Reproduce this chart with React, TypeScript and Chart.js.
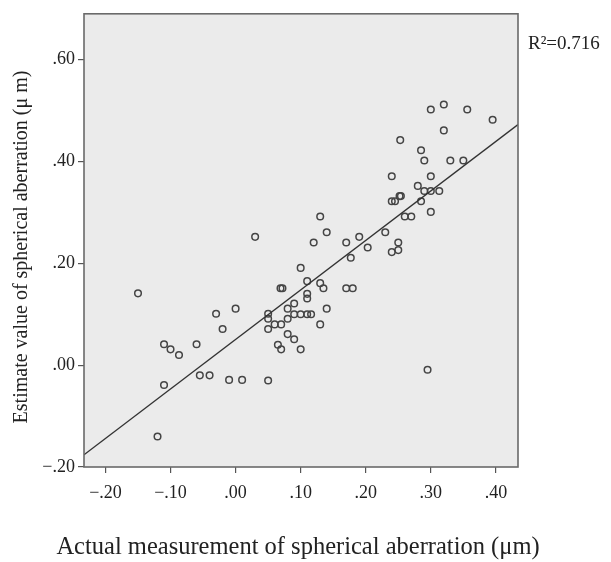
import React, { useEffect, useRef } from "react";
import { Chart, registerables } from "chart.js";

Chart.register(...registerables);

// Actual measurement of spherical aberration (µm)
const measuredX = [
  -0.15, -0.03, 0.0, -0.02, -0.11, -0.1, -0.087, -0.06, -0.055, -0.04, -0.01, 0.01, -0.11, -0.12,
  0.13, 0.03, 0.14, 0.12, 0.17, 0.19, 0.203, 0.177, 0.1, 0.11, 0.13, 0.135, 0.069, 0.072, 0.17, 0.18,
  0.11, 0.11, 0.09, 0.08, 0.14, 0.05, 0.09, 0.1, 0.11, 0.116, 0.05, 0.08, 0.06, 0.07, 0.13, 0.05,
  0.08, 0.09, 0.065, 0.07, 0.1, 0.05,
  0.24, 0.25, 0.25, 0.23, 0.26, 0.27, 0.3, 0.24, 0.245, 0.285, 0.252, 0.254, 0.29, 0.3, 0.313, 0.28,
  0.24, 0.3, 0.29, 0.33, 0.35, 0.285, 0.253, 0.32, 0.395, 0.3, 0.32, 0.356, 0.295,
];

// Estimate value of spherical aberration (µm)
const estimatedY = [
  0.141, 0.101, 0.111, 0.071, 0.041, 0.031, 0.02, 0.041, -0.02, -0.02, -0.029, -0.029, -0.039, -0.14,
  0.292, 0.252, 0.261, 0.241, 0.241, 0.252, 0.231, 0.211, 0.191, 0.165, 0.161, 0.151, 0.151, 0.151, 0.151, 0.151,
  0.14, 0.131, 0.121, 0.111, 0.111, 0.101, 0.1, 0.1, 0.1, 0.1, 0.091, 0.091, 0.08, 0.08, 0.08, 0.071,
  0.061, 0.051, 0.04, 0.031, 0.031, -0.03,
  0.222, 0.226, 0.241, 0.261, 0.292, 0.292, 0.301, 0.322, 0.322, 0.322, 0.332, 0.332, 0.342, 0.342, 0.342, 0.352,
  0.371, 0.371, 0.402, 0.402, 0.402, 0.422, 0.442, 0.461, 0.482, 0.502, 0.512, 0.502, -0.009,
];

const X_TICKS = [-0.2, -0.1, 0.0, 0.1, 0.2, 0.3, 0.4];
const Y_TICKS = [-0.2, 0.0, 0.2, 0.4, 0.6];
const X_MIN = -0.233;
const X_MAX = 0.434;
const Y_MIN = -0.2;
const Y_MAX = 0.69;

// Fit line
const FIT_SLOPE = 0.972;
const FIT_INTERCEPT = 0.0505;
const R2_LABEL = "R\u00B2=0.716";

const X_TITLE = "Actual measurement of spherical aberration (\u03BCm)";
const Y_TITLE = "Estimate value of spherical aberration (\u03BC m)";

const SERIF = "'Liberation Serif', 'Times New Roman', serif";

function fmt(v: number): string {
  const s = Math.abs(v).toFixed(2).replace(/^0/, "");
  return (v < -1e-9 ? "\u2212" : "") + s;
}

const plotFrame = {
  id: "plotFrame",
  beforeDraw(chart: any) {
    const { ctx, chartArea } = chart;
    const { left, top, right, bottom } = chartArea;
    ctx.save();
    ctx.fillStyle = "#ebebeb";
    ctx.fillRect(left, top, right - left, bottom - top);
    ctx.restore();
  },
  afterDraw(chart: any) {
    const { ctx, chartArea } = chart;
    const { left, top, right, bottom } = chartArea;
    ctx.save();
    ctx.strokeStyle = "#6a6a6a";
    ctx.lineWidth = 1.6;
    ctx.strokeRect(left, top, right - left, bottom - top);
    ctx.fillStyle = "#222";
    ctx.font = `19px ${SERIF}`;
    ctx.textAlign = "left";
    ctx.textBaseline = "middle";
    ctx.fillText(R2_LABEL, right + 10, 44);
    // x-axis title
    ctx.font = `24.5px ${SERIF}`;
    ctx.textAlign = "center";
    ctx.fillText(X_TITLE, 298, 548);
    // y-axis title
    ctx.translate(22, 247);
    ctx.rotate(-Math.PI / 2);
    ctx.font = `20px ${SERIF}`;
    ctx.textAlign = "center";
    ctx.textBaseline = "middle";
    ctx.fillText(Y_TITLE, 0, 0);
    ctx.restore();
  },
};

export default function App() {
  const canvasRef = useRef<HTMLCanvasElement | null>(null);

  useEffect(() => {
    if (!canvasRef.current) return;
    const points = measuredX.map((x, i) => ({ x, y: estimatedY[i] }));
    const fitLine = [X_MIN, X_MAX].map((x) => ({ x, y: FIT_INTERCEPT + FIT_SLOPE * x }));

    const chart = new Chart(canvasRef.current, {
      type: "scatter",
      data: {
        datasets: [
          {
            type: "line",
            data: fitLine,
            borderColor: "#333",
            borderWidth: 1.4,
            pointRadius: 0,
            fill: false,
          } as any,
          {
            type: "scatter",
            data: points,
            backgroundColor: "rgba(0,0,0,0)",
            borderColor: "#454545",
            pointRadius: 3.3,
            pointBorderWidth: 1.5,
            pointStyle: "circle",
          } as any,
        ],
      },
      options: {
        animation: false,
        responsive: true,
        maintainAspectRatio: false,
        layout: { padding: { top: 13.5, right: 93, left: 0, bottom: 0 } },
        plugins: { legend: { display: false }, tooltip: { enabled: false } },
        scales: {
          x: {
            type: "linear",
            min: X_MIN,
            max: X_MAX,
            afterBuildTicks: (scale: any) => {
              scale.ticks = X_TICKS.map((value) => ({ value }));
            },
            afterFit: (scale: any) => {
              scale.height = 95;
            },
            border: { display: false },
            grid: { display: true, drawOnChartArea: false, drawTicks: true, tickLength: 6, color: "#555", lineWidth: 1.2 },
            ticks: {
              autoSkip: false,
              maxRotation: 0,
              padding: 9,
              color: "#222",
              font: { family: SERIF, size: 18 },
              callback: (v: any) => fmt(Number(v)),
            },
            title: { display: false },
          },
          y: {
            type: "linear",
            min: Y_MIN,
            max: Y_MAX,
            afterBuildTicks: (scale: any) => {
              scale.ticks = Y_TICKS.map((value) => ({ value }));
            },
            afterFit: (scale: any) => {
              scale.width = 84;
            },
            border: { display: false },
            grid: { display: true, drawOnChartArea: false, drawTicks: true, tickLength: 6, color: "#555", lineWidth: 1.2 },
            ticks: {
              autoSkip: false,
              padding: 3,
              color: "#222",
              font: { family: SERIF, size: 18 },
              callback: (v: any) => fmt(Number(v)),
            },
            title: { display: false },
          },
        },
      },
      plugins: [plotFrame],
    });

    return () => chart.destroy();
  }, []);

  return (
    <div style={{ position: "absolute", left: 0, top: 0, width: 611, height: 562, background: "#fff" }}>
      <canvas ref={canvasRef} />
    </div>
  );
}
